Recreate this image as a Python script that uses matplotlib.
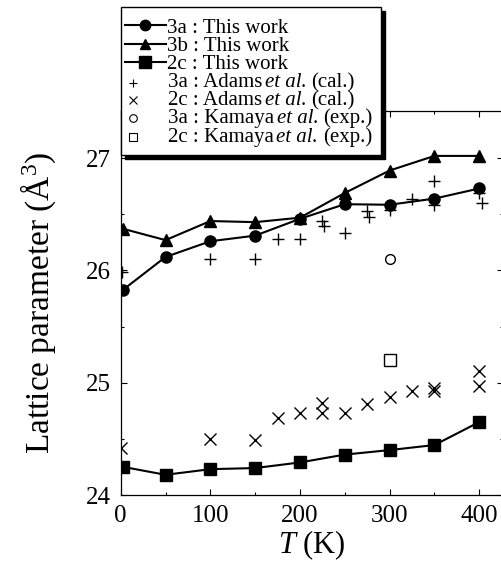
import matplotlib
matplotlib.use('Agg')
import matplotlib.pyplot as plt
from matplotlib.lines import Line2D
from matplotlib.patches import Rectangle
from matplotlib.ticker import MultipleLocator
from matplotlib.offsetbox import AnchoredOffsetbox, VPacker, HPacker, TextArea, DrawingArea

plt.rcParams['font.family'] = ['Liberation Serif', 'DejaVu Serif']
plt.rcParams['mathtext.fontset'] = 'custom'
plt.rcParams['mathtext.rm'] = 'Liberation Serif'
plt.rcParams['mathtext.it'] = 'Liberation Serif:italic'

# This work (lines + filled markers)
T_work = [3, 50, 100, 150, 200, 250, 300, 350, 400]
v3a_work = [25.83, 26.12, 26.26, 26.31, 26.46, 26.59, 26.585, 26.64, 26.73]
v3b_work = [26.37, 26.27, 26.44, 26.43, 26.47, 26.69, 26.89, 27.02, 27.02]
v2c_work = [24.25, 24.18, 24.23, 24.24, 24.29, 24.36, 24.40, 24.445, 24.65]

# Adams et al. (cal.)
T_adams_3a = [2, 100, 150, 175, 200, 225, 227, 250, 275, 277, 300, 325, 350, 350, 400, 403]
v_adams_3a = [25.99, 26.10, 26.10, 26.28, 26.28, 26.44, 26.395, 26.33, 26.53, 26.48,
              26.54, 26.64, 26.80, 26.58, 26.69, 26.60]
T_adams_2c = [0, 100, 150, 175, 200, 225, 225, 250, 275, 300, 325, 350, 350, 400, 400]
v_adams_2c = [24.42, 24.50, 24.49, 24.69, 24.73, 24.82, 24.73, 24.73, 24.81, 24.87,
              24.93, 24.93, 24.95, 25.10, 24.97]

# Kamaya et al. (exp.)
T_kam = [300]
v_kam_3a = [26.10]
v_kam_2c = [25.20]

work_labels = ['3a : This work', '3b : This work', '2c : This work']
ref_sites = ['3a', '2c', '3a', '2c']
ref_authors = ['Adams', 'Adams', 'Kamaya', 'Kamaya']
ref_kinds = ['(cal.)', '(cal.)', '(exp.)', '(exp.)']

W, H = 502, 570
fig = plt.figure(figsize=(W / 100, H / 100), dpi=100)
ax = fig.add_axes([120.7 / W, 75 / H, 382.8 / W, 384 / H])

ax.plot(T_adams_3a, v_adams_3a, '+', color='k', ms=9, mew=1.0)
ax.plot(T_adams_2c, v_adams_2c, 'x', color='k', ms=8, mew=1.0)
ax.plot(T_kam, v_kam_3a, 'o', mfc='none', mec='k', ms=7, mew=1.0)
ax.plot(T_kam, v_kam_2c, 's', mfc='none', mec='k', ms=8, mew=1.0)

ax.plot(T_work, v3a_work, '-o', color='k', lw=1.5, ms=8)
ax.plot(T_work, v3b_work, '-^', color='k', lw=1.5, ms=8.5)
ax.plot(T_work, v2c_work, '-s', color='k', lw=1.5, ms=9)

ax.set_xlim(0, 427)
ax.set_ylim(24, 27.42)
ax.xaxis.set_major_locator(MultipleLocator(100))
ax.xaxis.set_minor_locator(MultipleLocator(50))
ax.yaxis.set_major_locator(MultipleLocator(1))
ax.yaxis.set_minor_locator(MultipleLocator(0.5))
ax.tick_params(which='both', direction='in', top=True, right=True, labelsize=18, pad=7)
ax.tick_params(which='major', length=4.5, width=0.8)
ax.tick_params(which='minor', length=2.5, width=0.8)
for s in ax.spines.values():
    s.set_linewidth(0.9)

ax.set_xlabel('$T$ (K)', fontsize=22, labelpad=1)
ax.set_ylabel('Lattice parameter (Å$^{3}$)', fontsize=24, labelpad=20)

# legend frame with black shadow
fx = lambda x: x / W
fy = lambda y: 1 - y / H
fig.add_artist(Rectangle((fx(125), fy(159)), fx(381) - fx(121), fy(11) - fy(159),
                         transform=fig.transFigure, facecolor='k', edgecolor='k', zorder=3))
fig.add_artist(Rectangle((fx(121), fy(155)), fx(381) - fx(121), fy(7) - fy(155),
                         transform=fig.transFigure, facecolor='w', edgecolor='k', lw=1, zorder=3.1))

# first part of legend: this work
h1 = [Line2D([], [], color='k', lw=1.5, marker='o', ms=7.5),
      Line2D([], [], color='k', lw=1.5, marker='^', ms=7.5),
      Line2D([], [], color='k', lw=1.5, marker='s', ms=8)]
fig.legend(handles=h1, labels=work_labels, loc='upper left', bbox_to_anchor=(fx(125), fy(18)),
           frameon=False, fontsize=15, handlelength=1.95, handletextpad=0.05,
           borderpad=0, borderaxespad=0, labelspacing=-0.06)

# second part: literature, with italic "et al."
ref_markers = [dict(marker='+', color='k'), dict(marker='x', color='k'),
               dict(marker='o', mfc='none', mec='k', ms=5.5), dict(marker='s', mfc='none', mec='k')]
rows = []
for site, author, kind, mk in zip(ref_sites, ref_authors, ref_kinds, ref_markers):
    da = DrawingArea(33, 10, 0, 0)
    style = dict(ms=6, mew=0.8, ls='none')
    style.update(mk)
    da.add_artist(Line2D([9.4], [5], **style))
    t1 = TextArea(f'{site} : {author}', textprops=dict(fontsize=15))
    t2 = TextArea('et al.', textprops=dict(fontsize=15, style='italic'))
    t3 = TextArea(kind, textprops=dict(fontsize=15))
    txt = HPacker(children=[HPacker(children=[t1, t2], sep=2, align='baseline'), t3],
                  sep=3.5, align='baseline')
    rows.append(HPacker(children=[da, txt], sep=1.3, align='center'))
box = VPacker(children=rows, sep=-1.05, align='left', pad=0)
anc = AnchoredOffsetbox(loc='upper left', child=box, pad=0, borderpad=0, frameon=False,
                        bbox_to_anchor=(fx(120), fy(73)), bbox_transform=fig.transFigure)
anc.set_zorder(5)
fig.add_artist(anc)

fig.savefig('out.png', dpi=100)
